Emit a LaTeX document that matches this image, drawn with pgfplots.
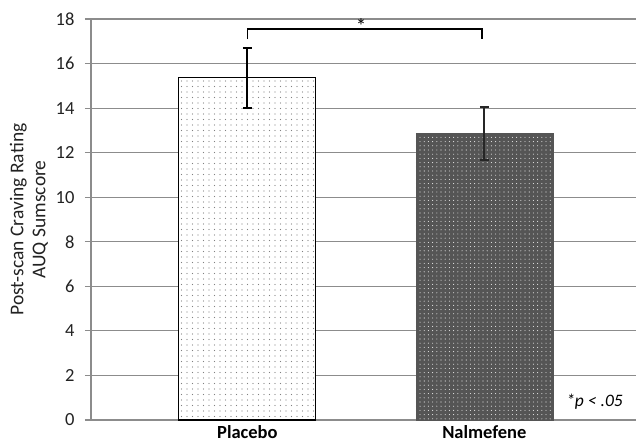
\documentclass[border=0pt]{standalone}
\usepackage{pgfplots}
\pgfplotsset{compat=1.18}
\usepackage{fontspec}
\setmainfont{Carlito}
\usetikzlibrary{patterns.meta}
\definecolor{gridgray}{HTML}{8C8C8C}
\definecolor{darkbar}{HTML}{555555}
\definecolor{txt}{HTML}{222222}
\begin{document}
\begin{tikzpicture}
\begin{axis}[
  at={(0,0)}, anchor=south west,
  scale only axis, width=545pt, height=401pt,
  xmin=-0.66, xmax=1.64, ymin=0, ymax=18,
  ytick={0,2,...,18},
  xtick={0,1}, xticklabels={Placebo,Nalmefene},
  x tick label style={font=\fontsize{18.5}{20}\selectfont\bfseries, text=black, inner sep=0pt, text depth=0pt, anchor=base, yshift=-12pt},
  y tick label style={font=\fontsize{18.5}{20}\selectfont, text=txt, xshift=-7pt},
  /pgf/number format/assume math mode=true,
  ymajorgrids, grid style={gridgray, line width=1.2pt},
  axis x line*=bottom, axis y line*=left,
  x axis line style={draw=none},
  y axis line style={gridgray, line width=1.2pt},
  major x tick style={draw=none},
  major y tick style={gridgray, line width=1.2pt},
  tick align=outside, major tick length=6pt,
  ylabel={Post-scan Craving Rating\\AUQ Sumscore},
  ylabel style={font=\fontsize{19.5}{22}\selectfont, align=center, text=txt,
    at={(axis description cs:-0.1138,0.5)}, anchor=center, rotate=0},
  clip=false,
]
\addplot[ybar, bar width=137pt, bar shift=0pt, draw=black, line width=1.2pt,
  fill=white, postaction={pattern={Dots[distance=5.5pt, radius=0.55pt]}, pattern color=gray},
  error bars/.cd, y dir=both, y explicit,
  error bar style={black, line width=1.8pt},
  error mark options={black, line width=1.8pt, mark size=4.5pt, rotate=90}]
  coordinates {(0,15.36) +- (0,1.34)};
\addplot[ybar, bar width=137pt, bar shift=0pt, draw=darkbar, line width=0.6pt,
  fill=darkbar, postaction={pattern={Dots[distance=4.2pt, radius=0.55pt]}, pattern color=white!80!gray},
  error bars/.cd, y dir=both, y explicit,
  error bar style={black!85, line width=1.8pt},
  error mark options={black!85, line width=1.8pt, mark size=4.5pt, rotate=90}]
  coordinates {(1,12.86) +- (0,1.2)};
\addplot[black, line width=1.1pt, mark=none, sharp plot]
  coordinates {(0,17.1) (0,17.55) (0.99,17.55) (0.99,17.1)};
\node[font=\fontsize{21}{20}\selectfont, anchor=south, inner sep=1pt] at (axis cs:0.48,17.3) {*};
\node[font=\fontsize{17.5}{20}\selectfont\itshape, anchor=east, inner sep=0pt] at (axis cs:1.585,0.8) {*p < .05};
\end{axis}
\pgfresetboundingbox
\path[use as bounding box] (-91pt,-24pt) rectangle (545pt,420pt);
\end{tikzpicture}
\end{document}
